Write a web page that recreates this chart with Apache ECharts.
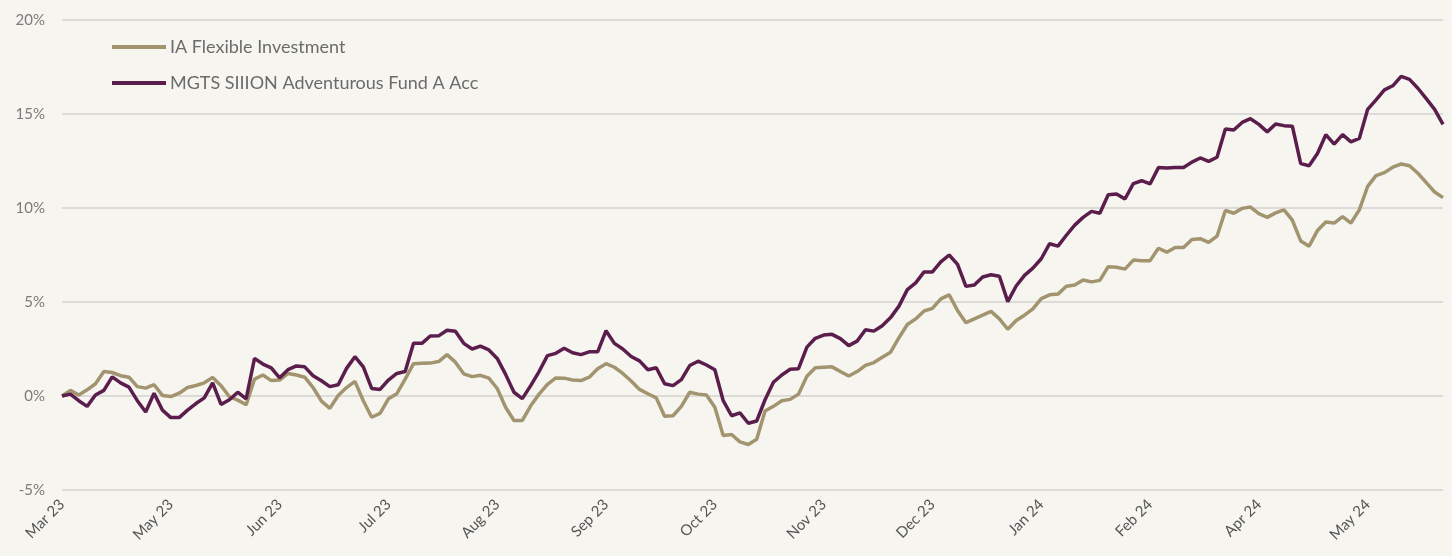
<!DOCTYPE html>
<html>
<head>
<meta charset="utf-8">
<script src="https://cdn.jsdelivr.net/npm/echarts@6/dist/echarts.min.js"></script>
<style>
  html, body { margin: 0; padding: 0; background: #f6f5f0; }
  #chart { width: 1452px; height: 556px; }
</style>
</head>
<body>
<div id="chart"></div>
<script>
// month labels shown every 13th point along the category axis
var tickLabels = ['Mar 23', 'May 23', 'Jun 23', 'Jul 23', 'Aug 23', 'Sep 23', 'Oct 23',
                  'Nov 23', 'Dec 23', 'Jan 24', 'Feb 24', 'Apr 24', 'May 24'];
var labelEvery = 13;

var seriesNames = ['IA Flexible Investment', 'MGTS SIIION Adventurous Fund A Acc'];

// cumulative performance, %
var iaFlexible = [
  0.0, 0.3, 0.05, 0.33, 0.65, 1.3, 1.25, 1.08, 1.0, 0.5,
  0.42, 0.6, 0.03, -0.03, 0.15, 0.45, 0.56, 0.7, 0.99, 0.55,
  -0.04, -0.22, -0.47, 0.9, 1.12, 0.82, 0.85, 1.2, 1.12, 1.0,
  0.45, -0.27, -0.66, 0.03, 0.45, 0.78, -0.25, -1.13, -0.92, -0.15,
  0.12, 0.9, 1.72, 1.74, 1.75, 1.83, 2.2, 1.8, 1.18, 1.03,
  1.1, 0.95, 0.4, -0.6, -1.3, -1.3, -0.52, 0.1, 0.62, 0.96,
  0.95, 0.85, 0.82, 1.0, 1.45, 1.72, 1.53, 1.2, 0.8, 0.35,
  0.12, -0.1, -1.08, -1.05, -0.55, 0.2, 0.1, 0.05, -0.6, -2.1,
  -2.05, -2.44, -2.58, -2.3, -0.8, -0.55, -0.25, -0.18, 0.1, 1.05,
  1.5, 1.53, 1.55, 1.3, 1.06, 1.3, 1.63, 1.78, 2.06, 2.33,
  3.1, 3.8, 4.1, 4.52, 4.66, 5.17, 5.38, 4.55, 3.9, 4.1,
  4.3, 4.5, 4.1, 3.55, 4.02, 4.3, 4.63, 5.18, 5.38, 5.42,
  5.84, 5.9, 6.17, 6.07, 6.15, 6.88, 6.85, 6.75, 7.23, 7.2,
  7.2, 7.86, 7.65, 7.9, 7.9, 8.33, 8.37, 8.17, 8.5, 9.87,
  9.72, 9.98, 10.05, 9.7, 9.5, 9.74, 9.9, 9.35, 8.25, 7.97,
  8.8, 9.25, 9.2, 9.54, 9.2, 9.9, 11.15, 11.72, 11.88, 12.17,
  12.34, 12.25, 11.85, 11.35, 10.85, 10.55
];

var mgtsAdventurous = [
  0.0, 0.1, -0.25, -0.55, 0.05, 0.3, 1.02, 0.7, 0.47, -0.25,
  -0.85, 0.15, -0.75, -1.15, -1.15, -0.75, -0.4, -0.1, 0.7, -0.45,
  -0.2, 0.2, -0.15, 2.0, 1.7, 1.5, 0.97, 1.4, 1.6, 1.55,
  1.08, 0.81, 0.5, 0.6, 1.47, 2.09, 1.55, 0.4, 0.35, 0.85,
  1.2, 1.3, 2.8, 2.8, 3.19, 3.2, 3.5, 3.45, 2.8, 2.5,
  2.65, 2.45, 2.0, 1.15, 0.2, -0.14, 0.55, 1.3, 2.15, 2.27,
  2.54, 2.3, 2.2, 2.35, 2.35, 3.47, 2.8, 2.5, 2.1, 1.87,
  1.4, 1.5, 0.65, 0.55, 0.87, 1.62, 1.85, 1.65, 1.4, -0.25,
  -1.05, -0.9, -1.45, -1.33, -0.2, 0.73, 1.12, 1.42, 1.45, 2.6,
  3.07, 3.24, 3.28, 3.05, 2.68, 2.92, 3.52, 3.45, 3.74, 4.17,
  4.78, 5.66, 6.02, 6.6, 6.6, 7.13, 7.5, 7.0, 5.83, 5.9,
  6.33, 6.45, 6.37, 5.02, 5.85, 6.42, 6.8, 7.3, 8.1, 7.97,
  8.55, 9.09, 9.5, 9.82, 9.72, 10.7, 10.75, 10.48, 11.3, 11.45,
  11.28, 12.15, 12.13, 12.15, 12.15, 12.44, 12.66, 12.48, 12.7, 14.2,
  14.15, 14.55, 14.75, 14.45, 14.05, 14.47, 14.38, 14.35, 12.36, 12.25,
  12.9, 13.9, 13.4, 13.9, 13.52, 13.7, 15.25, 15.75, 16.28, 16.5,
  17.0, 16.84, 16.37, 15.82, 15.25, 14.45
];

var categories = [];
for (var i = 0; i < iaFlexible.length; i++) {
    categories.push(String(i));
}

var chart = echarts.init(document.getElementById('chart'));
chart.setOption({
    backgroundColor: '#f6f5f0',
    animation: false,
    textStyle: { fontFamily: 'Lato' },
    grid: { left: 62, right: 9, top: 20, bottom: 66 },
    legend: {
        orient: 'vertical',
        left: 107,
        top: 33,
        icon: 'rect',
        itemWidth: 54,
        itemHeight: 4,
        itemGap: 18,
        textStyle: { fontSize: 18, color: '#6b6b6b', fontFamily: 'Lato', padding: [0, 0, 0, -1] },
        data: seriesNames
    },
    xAxis: {
        type: 'category',
        boundaryGap: false,
        data: categories,
        axisLine: { show: false },
        axisTick: { show: false },
        axisLabel: {
            interval: labelEvery - 1,
            rotate: 45,
            margin: 12,
            fontSize: 15,
            color: '#555',
            formatter: function (value, index) {
                return tickLabels[index / labelEvery] || '';
            }
        }
    },
    yAxis: {
        type: 'value',
        min: -5,
        max: 20,
        interval: 5,
        axisLine: { show: false },
        axisTick: { show: false },
        axisLabel: { formatter: '{value}%', fontSize: 15, color: '#7a7a7a', margin: 17 },
        splitLine: { lineStyle: { color: '#dcdbd8', width: 2 } }
    },
    series: [
        {
            name: seriesNames[0],
            type: 'line',
            data: iaFlexible,
            showSymbol: false,
            symbol: 'none',
            lineStyle: { color: '#a2946f', width: 3.5 },
            itemStyle: { color: '#a2946f' }
        },
        {
            name: seriesNames[1],
            type: 'line',
            data: mgtsAdventurous,
            showSymbol: false,
            symbol: 'none',
            lineStyle: { color: '#5b1e4c', width: 3.5 },
            itemStyle: { color: '#5b1e4c' }
        }
    ]
});
</script>
</body>
</html>
